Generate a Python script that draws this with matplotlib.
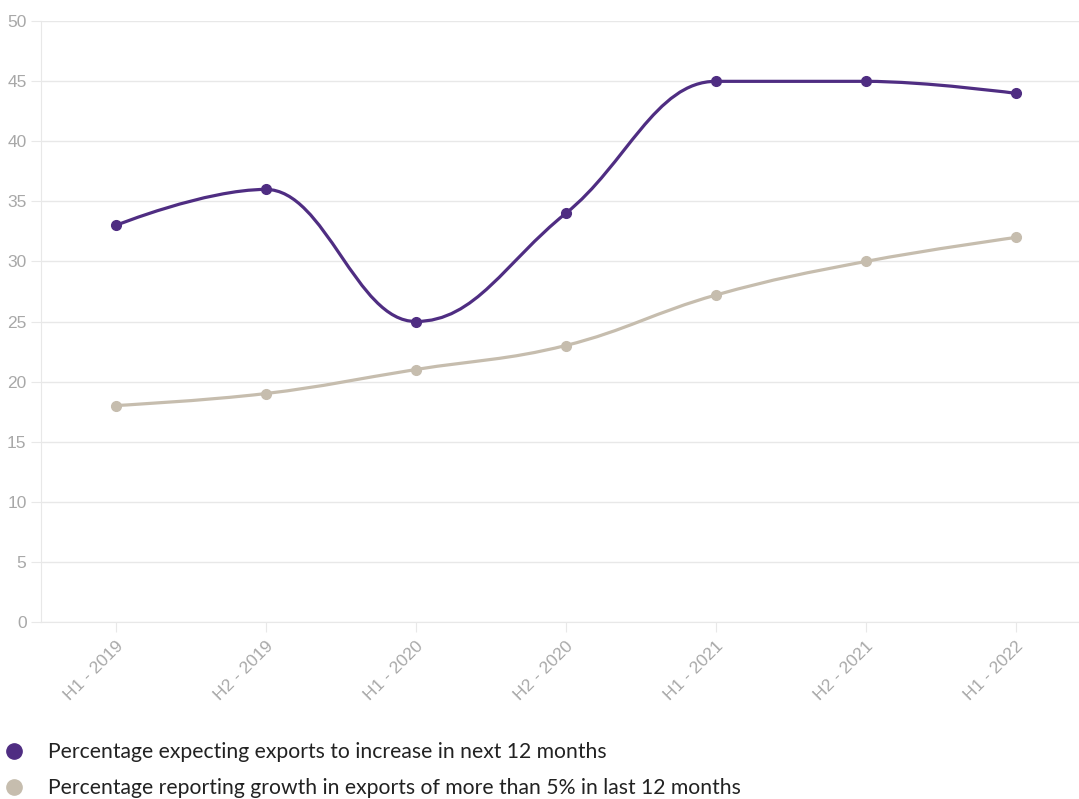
import matplotlib
matplotlib.use("Agg")
import matplotlib.pyplot as plt
from matplotlib.path import Path
from matplotlib.patches import PathPatch
from matplotlib.lines import Line2D

# chart data
periods = ["H1 - 2019", "H2 - 2019", "H1 - 2020", "H2 - 2020", "H1 - 2021", "H2 - 2021", "H1 - 2022"]
expecting_increase = [33, 36, 25, 34, 45, 45, 44]
reporting_growth = [18, 19, 21, 23, 27.2, 30, 32]
series_names = [
    "Percentage expecting exports to increase in next 12 months",
    "Percentage reporting growth in exports of more than 5% in last 12 months",
]
purple = "#4f2d82"
beige = "#c6bdae"
grid_col = "#e8e8e8"
tick_col = "#a8a8a8"


def spline_path(xs, ys, sx, sy):
    # highcharts style spline; works in pixel space so smoothing matches
    px = [x * sx for x in xs]
    py = [y * sy for y in ys]
    smoothing, denom = 1.5, 2.5
    verts = [(xs[0], ys[0])]
    codes = [Path.MOVETO]
    conts = []
    for i in range(len(px)):
        if i == 0 or i == len(px) - 1:
            conts.append(None)
            continue
        x, y = px[i], py[i]
        lx = (smoothing * x + px[i - 1]) / denom
        ly = (smoothing * y + py[i - 1]) / denom
        rx = (smoothing * x + px[i + 1]) / denom
        ry = (smoothing * y + py[i + 1]) / denom
        if rx != lx:
            corr = ((ry - ly) * (rx - x)) / (rx - lx) + y - ry
            ly += corr
            ry += corr
        if ly > max(py[i - 1], y):
            ly = max(py[i - 1], y)
            ry = 2 * y - ly
        elif ly < min(py[i - 1], y):
            ly = min(py[i - 1], y)
            ry = 2 * y - ly
        if ry > max(py[i + 1], y):
            ry = max(py[i + 1], y)
            ly = 2 * y - ry
        elif ry < min(py[i + 1], y):
            ry = min(py[i + 1], y)
            ly = 2 * y - ry
        conts.append(((lx, ly), (rx, ry)))
    for i in range(1, len(px)):
        c1 = conts[i - 1][1] if conts[i - 1] else (px[i - 1], py[i - 1])
        c2 = conts[i][0] if conts[i] else (px[i], py[i])
        verts += [(c1[0] / sx, c1[1] / sy), (c2[0] / sx, c2[1] / sy), (xs[i], ys[i])]
        codes += [Path.CURVE4] * 3
    return Path(verts, codes)


fig = plt.figure(figsize=(10.79, 7.99), dpi=100)
W, H = 1079, 799
left, right = 40.7, 1090.7
top, bottom = 21.3, 621.7
ax = fig.add_axes([left / W, 1 - bottom / H, (right - left) / W, (bottom - top) / H])
ax.set_xlim(-0.5, len(periods) - 0.5)
ax.set_ylim(0, 50)

# pixel scale per data unit
sx = (right - left) / len(periods)
sy = (bottom - top) / 50

xs = list(range(len(periods)))
for vals, col in [(reporting_growth, beige), (expecting_increase, purple)]:
    ax.add_patch(PathPatch(spline_path(xs, vals, sx, sy), facecolor="none",
                           edgecolor=col, lw=2.3, capstyle="round", zorder=3))
    ax.plot(xs, vals, "o", color=col, ms=7, zorder=4, lw=0)

ax.set_yticks(range(0, 51, 5))
ax.grid(axis="y", color=grid_col, lw=1)
ax.set_axisbelow(True)
ax.set_xticks(xs)
ax.set_xticklabels(periods, rotation=45, ha="right", rotation_mode="anchor")
for s in ["top", "right"]:
    ax.spines[s].set_visible(False)
ax.spines["left"].set_color(grid_col)
ax.spines["bottom"].set_color(grid_col)
ax.tick_params(axis="y", length=7.2, color=grid_col, labelcolor=tick_col, labelsize=12.5, pad=3)
ax.tick_params(axis="x", length=7.2, color=grid_col, labelcolor=tick_col, labelsize=12.5, pad=5)
for lab in ax.get_yticklabels() + ax.get_xticklabels():
    lab.set_fontfamily("Liberation Sans")

handles = [Line2D([], [], ls="", marker="o", ms=11, color=c) for c in (purple, beige)]
fig.legend(handles, series_names, loc="upper left", bbox_to_anchor=(-3 / W, 1 - 738 / H),
           frameon=False, prop={"family": "Lato", "size": 15.2}, labelspacing=0.75,
           handletextpad=1.0, handlelength=1.2, borderaxespad=0, borderpad=0.2,
           labelcolor="#222222")

fig.savefig("out.png", dpi=100)
